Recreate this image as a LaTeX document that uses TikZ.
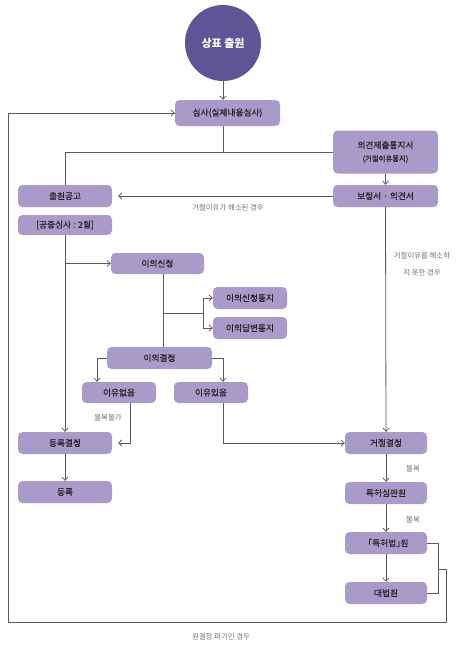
\documentclass[tikz,border=0pt]{standalone}
\usepackage{fontspec}
\setmainfont{Noto Sans CJK KR}
\newfontfamily\krbox[FakeBold=0.4]{Noto Sans CJK KR}
\usetikzlibrary{arrows.meta}
\definecolor{boxc}{HTML}{A89BC9}
\definecolor{circc}{HTML}{605396}
\definecolor{linec}{HTML}{5A5A5A}
\definecolor{txtc}{HTML}{262626}
\definecolor{lblc}{HTML}{707070}
\begin{document}
\begin{tikzpicture}[x=1pt,y=-1pt,
  box/.style={rectangle,rounded corners=4.5pt,fill=boxc,draw=none,inner sep=0pt,
    text=txtc,font=\krbox\fontsize{8.7}{10}\selectfont,align=center},
  conn/.style={draw=linec,line width=0.8pt},
  arr/.style={conn,-{Straight Barb[length=3.2pt,width=6pt]}},
  lbl/.style={text=lblc,font=\fontsize{7.4}{9}\selectfont,inner sep=0pt}]
\useasboundingbox (0,0) rectangle (463,649);
\fill[white] (0,0) rectangle (463,649);

% nodes
\node[circle,fill=circc,minimum size=76pt,inner sep=0pt,text=white,
  font=\fontsize{11}{13}\bfseries\selectfont] (circ) at (223,43) {상표 출원};
\node[box,minimum width=105pt,minimum height=26pt] (sim) at (227.5,113) {심사(실체내용심사)};
\node[box,minimum width=105pt,minimum height=43pt] (opin) at (385.5,152)
  {의견제출통지서\\[3pt]{\fontsize{7.4}{9}\selectfont(거절이유통지)}};
\node[box,minimum width=94pt,minimum height=22pt] (pub) at (65,196) {출원공고};
\node[box,minimum width=105pt,minimum height=22pt] (boj) at (385.5,196) {보정서 · 의견서};
\node[box,minimum width=94pt,minimum height=20pt] (gong) at (65,225) {[공증심사 : 2월]};
\node[box,minimum width=93pt,minimum height=21pt] (iui) at (157.5,263.5) {이의신청};
\node[box,minimum width=74pt,minimum height=22pt] (iuit) at (250,298) {이의신청통지};
\node[box,minimum width=74pt,minimum height=22pt] (iuid) at (250,328) {이의답변통지};
\node[box,minimum width=105pt,minimum height=22pt] (iuig) at (159.5,358) {이의결정};
\node[box,minimum width=74pt,minimum height=21pt] (eop) at (119,392.5) {이유없음};
\node[box,minimum width=74pt,minimum height=21pt] (iss) at (211,392.5) {이유있음};
\node[box,minimum width=94pt,minimum height=22pt] (dgy) at (65,443) {등록결정};
\node[box,minimum width=94pt,minimum height=22pt] (dr) at (65,492) {등록};
\node[box,minimum width=82pt,minimum height=22pt] (geo) at (386,443) {거절결정};
\node[box,minimum width=82pt,minimum height=22pt] (tsp) at (386,493) {특허심판원};
\node[box,minimum width=82pt,minimum height=22pt] (tbw) at (386,543) {「특허법」\kern-4.5pt원};
\node[box,minimum width=82pt,minimum height=22pt] (dbw) at (386,593) {대법원};

% coordinates
\coordinate (j1) at (223,152);
\coordinate (pubin) at (118,196);
\coordinate (jg) at (65,263.5);
\coordinate (ji) at (163,313);
\coordinate (jb) at (203,313);
\coordinate (jl) at (97,358);
\coordinate (jr) at (223,358);
\coordinate (dgin) at (118,443);
\coordinate (bk) at (438,569);
\coordinate (bk2) at (446,622);
\coordinate (bl) at (8,622);

% connectors
\draw[arr] (circ.south) -- (circ.south |- sim.north);
\draw[conn] (sim.south -| j1) -- (j1);
\draw[conn] (pub.north) |- (opin.west);
\draw[arr] (opin.south -| boj) -- (boj.north);
\draw[arr] (boj.west) -- (pubin);
\draw[arr] (boj.south) -- (geo.north);
\draw[arr] (gong.south) -- (dgy.north);
\draw[arr] (jg) -- (iui.west);
\draw[conn] (iui.south -| ji) -- (iuig.north -| ji);
\draw[conn] (ji) -- (jb);
\draw[conn] (jb |- iuit.west) -- (jb |- iuid.west);
\draw[arr] (jb |- iuit.west) -- (iuit.west);
\draw[arr] (jb |- iuid.west) -- (iuid.west);
\draw[arr] (iuig.west) -| (jl |- eop.north);
\draw[arr] (iuig.east) -| (jr |- iss.north);
\draw[arr] (eop.south -| 130,0) |- (dgin);
\draw[arr] (iss.south -| jr) |- (geo.west);
\draw[arr] (dgy.south) -- (dr.north);
\draw[arr] (geo.south) -- (tsp.north);
\draw[arr] (tsp.south) -- (tbw.north);
\draw[arr] (tbw.south) -- (dbw.north);
\draw[conn] (tbw.east) -| (bk |- dbw.east) -- (dbw.east);
\draw[conn] (bk) -| (bk2) -- (bl) |- (sim.west);
\draw[arr] (bl |- sim.west) -- (sim.west);

% labels
\node[lbl] (l1) at (228,207.5) {거절이유가 해소된 경우};
\node[lbl] (l2) at (422,256) {거절이유를 해소하};
\node[lbl] (l3) at (422,273) {지 못한 경우};
\node[lbl] (l4) at (108,418) {불복불가};
\node[lbl] (l5) at (413,469) {불복};
\node[lbl] (l6) at (413,520) {불복};
\node[lbl] (l7) at (221,637) {원결정 파기인 경우};
\end{tikzpicture}
\end{document}
